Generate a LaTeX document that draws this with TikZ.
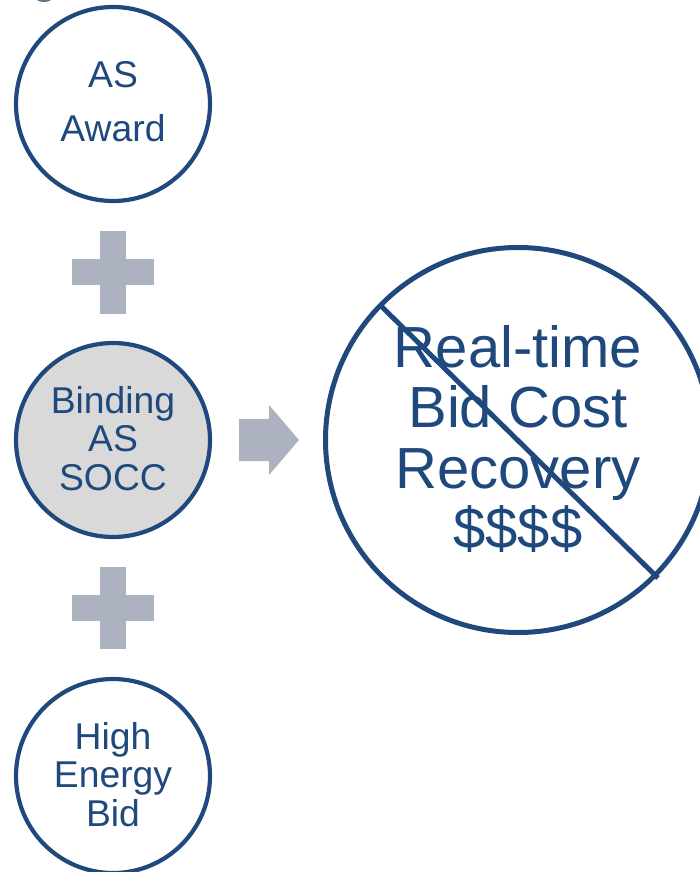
\documentclass[tikz,border=0pt]{standalone}
\usepackage{fontspec}
\setmainfont{Liberation Sans}
\definecolor{navy}{RGB}{31,73,125}
\definecolor{plusgray}{RGB}{173,178,192}
\definecolor{fillgray}{RGB}{217,217,217}
\definecolor{tealgray}{RGB}{88,118,140}
\newcommand\stk[2]{\vtop{\baselineskip=#1\lineskiplimit=-\maxdimen\lineskip=0pt\halign{\hfil##\hfil\cr#2\crcr}}}
\begin{document}
\begin{tikzpicture}[x=1pt,y=-1pt,
  ring/.style={circle,draw=navy,line width=4.2pt,minimum size=194pt,inner sep=0pt},
  bigring/.style={circle,draw=navy,line width=5pt,minimum size=385pt,inner sep=0pt},
  lbl/.style={anchor=base,inner sep=0pt,text=navy,font=\fontsize{37.3}{38.5}\selectfont},
  biglbl/.style={anchor=base,inner sep=0pt,text=navy,font=\fontsize{58}{60.5}\selectfont},
  plusshape/.style={fill=plusgray,draw=none}]
\useasboundingbox (0,0) rectangle (700,872);
% fragment at the top edge
\fill[tealgray] (44,-12) circle (14);
% circles
\node[ring] (c1) at (113,104) {};
\node[ring,fill=fillgray] (c2) at (113,440) {};
\node[ring] (c3) at (113,776) {};
\node[bigring] (c4) at (518,440) {};
% texts
\node[lbl] (t1) at (113,88) {\stk{54pt}{AS\cr Award}};
\node[lbl] (t2) at (113,413) {\stk{38.5pt}{Binding\cr AS\cr SOCC}};
\node[lbl] (t3) at (113,749) {\stk{38.5pt}{High\cr Energy\cr Bid}};
\node[biglbl] (t4) at (518,367) {\stk{60.5pt}{Real-time\cr Bid Cost\cr Recovery\cr \$\$\$\$}};
% strike-through line
\coordinate (s1) at (380,305);
\coordinate (s2) at (658,578);
\draw[navy,line width=5pt] (s1) -- (s2);
% plus signs
\fill[plusshape] (100,231) rectangle (126,314);
\fill[plusshape] (72,259) rectangle (154,285);
\fill[plusshape] (100,567) rectangle (126,649);
\fill[plusshape] (72,595) rectangle (154,621);
% arrow
\fill[plusshape] (239,419) -- (269,419) -- (269,405) -- (299,440) -- (269,475) -- (269,461) -- (239,461) -- cycle;
\end{tikzpicture}
\end{document}
